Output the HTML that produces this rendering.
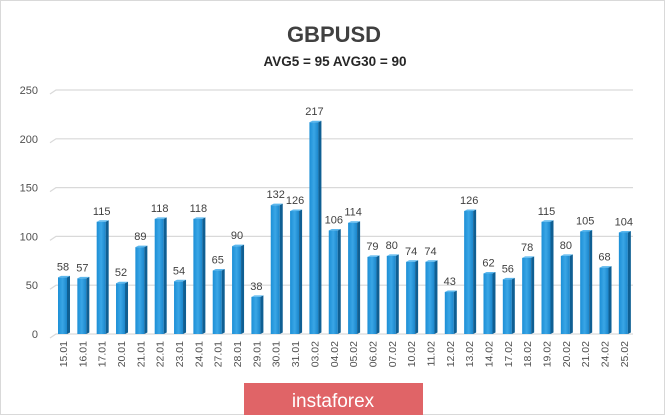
<!DOCTYPE html>
<html><head><meta charset="utf-8"><style>
html,body{margin:0;padding:0;background:#fff;}
svg{display:block;font-family:"Liberation Sans",Arial,sans-serif;}
</style></head><body>
<svg id="c" width="665" height="415" viewBox="0 0 665 415" xmlns="http://www.w3.org/2000/svg">
<defs>
<linearGradient id="g" x1="0" x2="1" y1="0" y2="0">
<stop offset="0" stop-color="#1c8fd6"/><stop offset="0.5" stop-color="#3aa6e6"/><stop offset="1" stop-color="#1a86cc"/>
</linearGradient>
</defs>
<rect x="0.5" y="0.5" width="664" height="414" fill="#fff" stroke="#d9d9d9"/>
<text x="334" y="42" text-anchor="middle" font-size="22" font-weight="bold" fill="#404040">GBPUSD</text>
<text x="335" y="66" text-anchor="middle" font-size="13.5" font-weight="bold" fill="#262626">AVG5 = 95 AVG30 = 90</text>
<g id="grid"></g>
<g id="bars"></g>
<rect x="244" y="383" width="179" height="32" fill="#e06467"/>
<text x="333" y="407" text-anchor="middle" font-size="19" fill="#fff">instaforex</text>
</svg>
<script>
var v=[58,57,115,52,89,118,54,118,65,90,38,132,126,217,106,114,79,80,74,74,43,126,62,56,78,115,80,105,68,104];
var l=["15.01","16.01","17.01","20.01","21.01","22.01","23.01","24.01","27.01","28.01","29.01","30.01","31.01","03.02","04.02","05.02","06.02","07.02","10.02","11.02","12.02","13.02","14.02","17.02","18.02","19.02","20.02","21.02","24.02","25.02"];
var ns="http://www.w3.org/2000/svg",g=document.getElementById("grid"),b=document.getElementById("bars");
function el(t,a,p,txt){var e=document.createElementNS(ns,t);for(var k in a)e.setAttribute(k,a[k]);if(txt!=null)e.textContent=txt;p.appendChild(e);return e;}
var base=334,s=0.976;
for(var k=0;k<=5;k++){var y=base-k*50*s;
el("polyline",{points:(50)+","+(y+4)+" 56,"+y+" 633,"+y,fill:"none",stroke:"#d9d9d9","stroke-width":1.2},g);
el("text",{x:38,y:y+4,"text-anchor":"end","font-size":11,fill:"#505050"},g,String(k*50));}
for(var i=0;i<v.length;i++){var x=58+19.34*i,h=v[i]*s,t=base-h;
el("rect",{x:x,y:t,width:9,height:h,fill:"url(#g)"},b);
el("polygon",{points:(x+9)+","+t+" "+(x+12)+","+(t-1.5)+" "+(x+12)+","+(base-1.5)+" "+(x+9)+","+base,fill:"#0f5f93"},b);
el("polygon",{points:x+","+t+" "+(x+3)+","+(t-1.5)+" "+(x+12)+","+(t-1.5)+" "+(x+9)+","+t,fill:"#5cb8ee"},b);
el("text",{x:x+5,y:t-7,"text-anchor":"middle","font-size":11,fill:"#404040"},b,String(v[i]));
var tx=x+9,ty=341;
el("text",{x:tx,y:ty,"text-anchor":"end","font-size":10.5,fill:"#505050",transform:"rotate(-90 "+tx+" "+ty+")"},b,l[i]);}
</script>
</body></html>
